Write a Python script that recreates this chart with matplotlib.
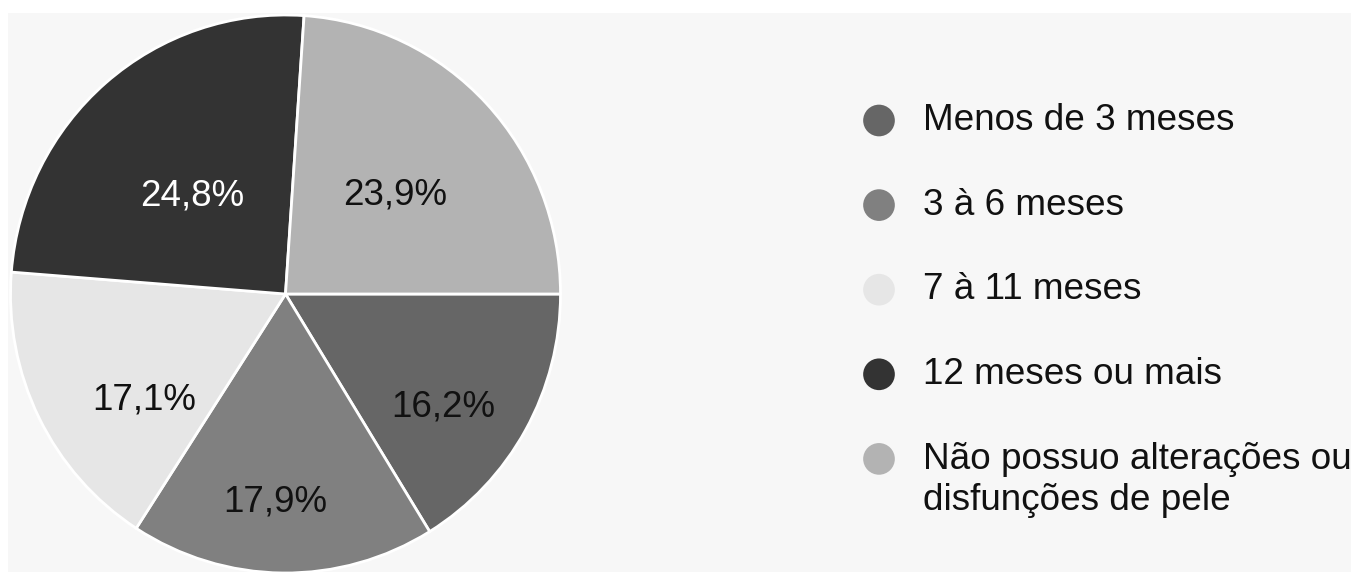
import numpy as np
import matplotlib.pyplot as plt
from matplotlib.patches import Rectangle

plt.rcParams["font.family"] = ["Liberation Sans", "DejaVu Sans"]

categories = [
    "Menos de 3 meses",
    "3 à 6 meses",
    "7 à 11 meses",
    "12 meses ou mais",
    "Não possuo alterações ou\ndisfunções de pele",
]
shares = [16.2, 17.9, 17.1, 24.8, 23.9]
pct_labels = ["16,2%", "17,9%", "17,1%", "24,8%", "23,9%"]

colors = ["#666666", "#808080", "#e6e6e6", "#333333", "#b3b3b3"]
label_colors = ["#111111", "#111111", "#111111", "#ffffff", "#111111"]
# label placement inside each slice (radius fraction, angle shift in degrees)
label_radius = [0.70, 0.745, 0.64, 0.49, 0.535]
label_shift = [-6.0, -2.3, 10.2, 3.1, -1.4]

W, H = 1351, 572
fig = plt.figure(figsize=(W / 100, H / 100), dpi=100, facecolor="white")
fig.patches.append(Rectangle((8 / W, 0), 1, 1 - 13 / H, transform=fig.transFigure,
                             facecolor="#f7f7f7", edgecolor="none", zorder=-10))

# pie (the source image is slightly stretched vertically)
cx, cy, rx, ry = 285.5, 294, 275, 279
ax = fig.add_axes([(cx - rx) / W, (H - cy - ry) / H, 2 * rx / W, 2 * ry / H])
wedges, _ = ax.pie(shares, colors=colors, startangle=0, counterclock=False,
                   wedgeprops=dict(edgecolor="white", linewidth=2))
ax.set_xlim(-1, 1)
ax.set_ylim(-1, 1)
ax.set_aspect("auto")
ax.axis("off")

for w, txt, col, rr, sh in zip(wedges, pct_labels, label_colors, label_radius, label_shift):
    mid = np.deg2rad((w.theta1 + w.theta2) / 2 + sh)
    ax.text(rr * np.cos(mid), rr * np.sin(mid), txt, ha="center", va="center",
            fontsize=26.5, color=col)

# legend
lg = fig.add_axes([0, 0, 1, 1])
lg.set_xlim(0, W)
lg.set_ylim(H, 0)
lg.axis("off")
lg.patch.set_alpha(0)
for i, (lab, c) in enumerate(zip(categories, colors)):
    y = 120.5 + i * 84.6
    lg.scatter([879], [y], s=520, color=c, edgecolors="none")
    if "\n" in lab:
        lg.text(923, y + 21, lab, ha="left", va="center", fontsize=26.6,
                color="#111111", linespacing=1.24)
    else:
        lg.text(923, y, lab, ha="left", va="center", fontsize=26.6, color="#111111")

fig.savefig("out.png", dpi=100, facecolor=fig.get_facecolor())
